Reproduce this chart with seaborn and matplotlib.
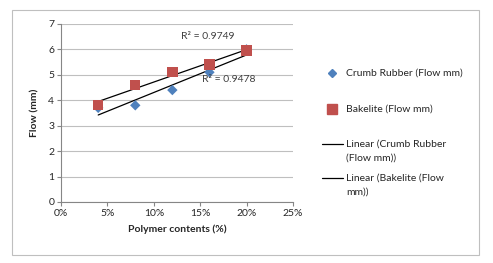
import pandas as pd
import seaborn as sns
import matplotlib.pyplot as plt
from matplotlib.lines import Line2D
from matplotlib.patches import Rectangle
from matplotlib.ticker import PercentFormatter

polymer = [0.04, 0.08, 0.12, 0.16, 0.20]
crumb_rubber = [3.7, 3.8, 4.4, 5.1, 6.0]
bakelite = [3.8, 4.6, 5.1, 5.4, 5.95]
legend_labels = ["Crumb Rubber (Flow mm)", "Bakelite (Flow mm)",
                 "Linear (Crumb Rubber\n(Flow mm))", "Linear (Bakelite (Flow\nmm))"]

sns.set_style("white")
plt.rcParams["font.family"] = ["Lato", "DejaVu Sans"]

df = pd.DataFrame({
    "x": polymer * 2,
    "flow": crumb_rubber + bakelite,
    "series": ["Crumb Rubber (Flow mm)"] * 5 + ["Bakelite (Flow mm)"] * 5,
})

blue = "#4F81BD"
red = "#C0504D"
W, H = 493, 263

fig = plt.figure(figsize=(4.93, 2.63), dpi=100)
fig.patches.append(Rectangle((0.024, 0.030), 0.947, 0.932, transform=fig.transFigure,
                             fill=False, edgecolor="#BFBFBF", linewidth=0.8))
ax = fig.add_axes([0.124, 0.232, 0.47, 0.677])

sns.regplot(x=polymer, y=crumb_rubber, ax=ax, scatter=False, ci=None, truncate=True,
            line_kws=dict(color="black", lw=0.9))
sns.regplot(x=polymer, y=bakelite, ax=ax, scatter=False, ci=None, truncate=True,
            line_kws=dict(color="black", lw=0.9))
sns.scatterplot(data=df[df.series.str.startswith("Crumb")], x="x", y="flow", ax=ax,
                marker="D", s=28, color=blue, edgecolor="none", legend=False, zorder=3)
sns.scatterplot(data=df[df.series.str.startswith("Bake")], x="x", y="flow", ax=ax,
                marker="s", s=55, color=red, edgecolor="none", legend=False, zorder=4)

ax.set_xlim(0, 0.25)
ax.set_ylim(0, 7)
ax.set_xticks([0, 0.05, 0.10, 0.15, 0.20, 0.25])
ax.xaxis.set_major_formatter(PercentFormatter(1.0, decimals=0))
ax.set_yticks(range(0, 8))
ax.grid(axis="y", color="#BFBFBF", lw=0.8)
ax.set_axisbelow(True)
for s in ["top", "right"]:
    ax.spines[s].set_visible(False)
for s in ["left", "bottom"]:
    ax.spines[s].set_color("#868686")
    ax.spines[s].set_linewidth(0.8)
ax.tick_params(axis="both", labelsize=7.5, length=3, width=0.8, color="#868686",
               direction="out", left=True, bottom=True, pad=2)
ax.set_xlabel("Polymer contents (%)", fontsize=7.5, fontweight="bold", labelpad=5)
ax.set_ylabel("Flow (mm)", fontsize=7.5, fontweight="bold", labelpad=6)

ax.text(0.158, 6.49, "R² = 0.9749", fontsize=7.5, color="#404040", ha="center", va="center")
ax.text(0.181, 4.80, "R² = 0.9478", fontsize=7.5, color="#404040", ha="center", va="center")

# hand-built legend, Excel style (handle beside the first text line)
rows = [73, 109, 144, 178]
tf = fig.transFigure
fig.add_artist(Line2D([332 / W], [1 - rows[0] / H], marker="D", color=blue, ls="none",
                      markersize=4.5, transform=tf))
fig.add_artist(Line2D([332 / W], [1 - rows[1] / H], marker="s", color=red, ls="none",
                      markersize=6.5, transform=tf))
for r in rows[2:]:
    fig.add_artist(Line2D([322 / W, 343 / W], [1 - r / H] * 2, color="black", lw=0.9,
                          transform=tf))
for r, lab in zip(rows, legend_labels):
    for i, part in enumerate(lab.split("\n")):
        fig.text(346 / W, 1 - (r + 14 * i) / H, part, fontsize=7.5, color="#262626",
                 ha="left", va="center")

fig.savefig("out.png", dpi=100)
